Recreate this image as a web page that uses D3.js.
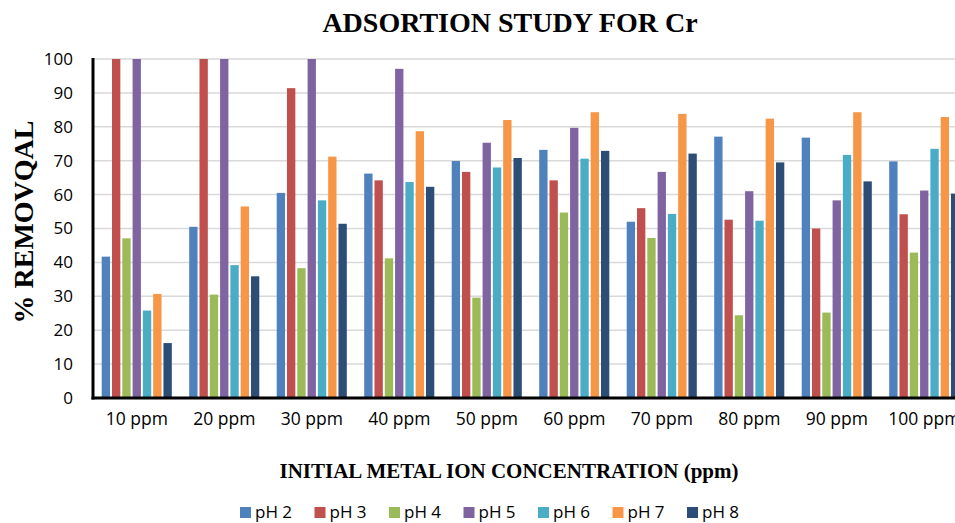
<!DOCTYPE html>
<html>
<head>
<meta charset="utf-8">
<script src="https://cdn.jsdelivr.net/npm/d3@7/dist/d3.min.js"></script>
<style>
  html, body { margin: 0; padding: 0; background: #fff; overflow: hidden; }
  svg { display: block; }
</style>
</head>
<body>
<svg id="chart" width="955" height="523"></svg>
<script>
// Concentration categories on the x axis
const categories = ["10 ppm", "20 ppm", "30 ppm", "40 ppm", "50 ppm",
                    "60 ppm", "70 ppm", "80 ppm", "90 ppm", "100 ppm"];

// % removal for each pH series, one value per concentration
const series = ["pH 2", "pH 3", "pH 4", "pH 5", "pH 6", "pH 7", "pH 8"];
const pH2 = [41.7, 50.5, 60.5, 66.2, 69.9, 73.2, 52.0, 77.1, 76.8, 69.8];
const pH3 = [100, 100, 91.4, 64.2, 66.7, 64.2, 56.0, 52.6, 50.0, 54.2];
const pH4 = [47.1, 30.5, 38.3, 41.2, 29.6, 54.7, 47.2, 24.4, 25.2, 42.9];
const pH5 = [100, 100, 100, 97.1, 75.3, 79.7, 66.7, 61.0, 58.3, 61.2];
const pH6 = [25.8, 39.2, 58.3, 63.7, 68.0, 70.6, 54.3, 52.3, 71.7, 73.5];
const pH7 = [30.7, 56.5, 71.2, 78.7, 82.0, 84.3, 83.8, 82.4, 84.3, 82.9];
const pH8 = [16.2, 35.9, 51.4, 62.3, 70.8, 72.9, 72.1, 69.5, 63.9, 60.3];
const values = [pH2, pH3, pH4, pH5, pH6, pH7, pH8];

const colors = ["#4F81BD", "#C0504D", "#9BBB59", "#8064A2", "#4BACC6", "#F79646", "#2C4D75"];

const yTicks = [0, 10, 20, 30, 40, 50, 60, 70, 80, 90, 100];

const svg = d3.select("#chart");

// Plot area (the last category runs past the right edge of the frame)
const plotLeft = 93, plotRight = 968, plotTop = 59, plotBottom = 398;

const x0 = d3.scaleBand().domain(categories).range([plotLeft, plotRight]).padding(0);
const x1 = d3.scaleBand().domain(series).range([0, x0.bandwidth()])
  .paddingInner(0.19).paddingOuter(0.845);
const y = d3.scaleLinear().domain([0, 100]).range([plotBottom, plotTop]);
const color = d3.scaleOrdinal().domain(series).range(colors);

// Horizontal gridlines
svg.append("g")
  .selectAll("line")
  .data(yTicks.filter(d => d > 0))
  .join("line")
  .attr("x1", plotLeft).attr("x2", 955)
  .attr("y1", d => y(d)).attr("y2", d => y(d))
  .attr("stroke", "#D9D9D9")
  .attr("stroke-width", 1.5);

// Bars
const groups = svg.append("g")
  .selectAll("g")
  .data(categories)
  .join("g")
  .attr("transform", d => `translate(${x0(d)},0)`);

groups.selectAll("rect")
  .data((c, ci) => series.map((s, si) => ({ s, v: values[si][ci] })))
  .join("rect")
  .attr("x", d => x1(d.s))
  .attr("width", x1.bandwidth())
  .attr("y", d => y(d.v))
  .attr("height", d => y(0) - y(d.v))
  .attr("fill", d => color(d.s));

// Y axis
const yAxis = svg.append("g")
  .attr("transform", `translate(${plotLeft},0)`)
  .call(d3.axisLeft(y).tickValues(yTicks).tickSize(0).tickPadding(20));
yAxis.select(".domain").remove();
yAxis.selectAll("text")
  .attr("font-family", "'Open Sans', sans-serif")
  .attr("font-size", 17)
  .attr("fill", "#000");

// X axis
const xAxis = svg.append("g")
  .attr("transform", `translate(0,${plotBottom})`)
  .call(d3.axisBottom(x0).tickSize(0).tickPadding(15));
xAxis.select(".domain").remove();
xAxis.selectAll("text")
  .attr("font-family", "'Open Sans', sans-serif")
  .attr("font-size", 17.5)
  .attr("fill", "#000");

// Axis lines
svg.append("line")
  .attr("x1", plotLeft).attr("x2", plotLeft)
  .attr("y1", plotTop - 1).attr("y2", plotBottom + 1.5)
  .attr("stroke", "#000").attr("stroke-width", 3);
svg.append("line")
  .attr("x1", plotLeft - 1.5).attr("x2", 955)
  .attr("y1", plotBottom).attr("y2", plotBottom)
  .attr("stroke", "#000").attr("stroke-width", 3);

// Titles
svg.append("text")
  .attr("x", 510).attr("y", 32)
  .attr("text-anchor", "middle")
  .attr("font-family", "'Liberation Serif', 'Times New Roman', serif")
  .attr("font-weight", "bold")
  .attr("font-size", 28)
  .text("ADSORTION STUDY FOR Cr");

svg.append("text")
  .attr("x", 509).attr("y", 478)
  .attr("text-anchor", "middle")
  .attr("font-family", "'Liberation Serif', 'Times New Roman', serif")
  .attr("font-weight", "bold")
  .attr("font-size", 21)
  .text("INITIAL METAL ION CONCENTRATION (ppm)");

svg.append("text")
  .attr("transform", "translate(33,222) rotate(-90)")
  .attr("text-anchor", "middle")
  .attr("font-family", "'Liberation Serif', 'Times New Roman', serif")
  .attr("font-weight", "bold")
  .attr("font-size", 28)
  .text("% REMOVQAL");

// Legend
const legend = svg.append("g")
  .selectAll("g")
  .data(series)
  .join("g")
  .attr("transform", (d, i) => `translate(${240 + i * 74.5},507)`);
legend.append("rect")
  .attr("width", 11).attr("height", 11)
  .attr("fill", d => color(d));
legend.append("text")
  .attr("x", 15).attr("y", 11)
  .attr("font-family", "'Open Sans', sans-serif")
  .attr("font-size", 17)
  .attr("fill", "#000")
  .text(d => d);
</script>
</body>
</html>
